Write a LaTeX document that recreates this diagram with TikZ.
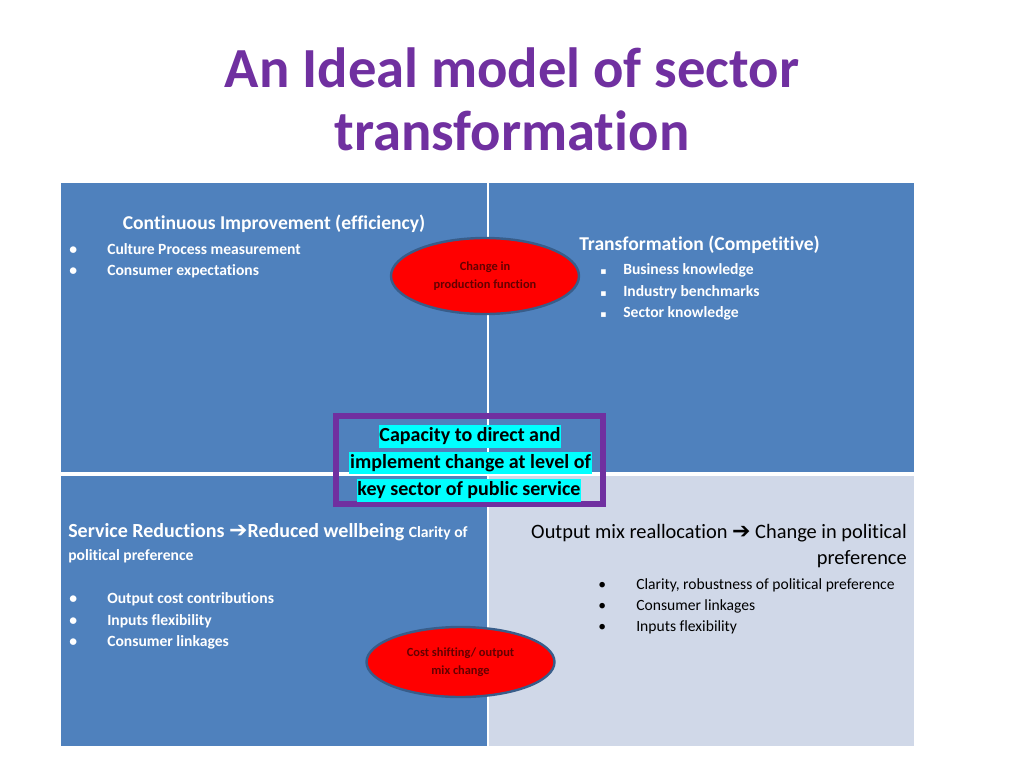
\documentclass[tikz,border=0pt]{standalone}
\usepackage{fontspec}
\setmainfont{Carlito}[Ligatures=NoCommon]
\newfontfamily\symfont{DejaVu Sans}
\usetikzlibrary{shapes.geometric}
\definecolor{titlepurple}{RGB}{112,48,160}
\definecolor{quadblue}{RGB}{79,129,189}
\definecolor{quadgrey}{RGB}{208,216,232}
\definecolor{ovalred}{RGB}{255,0,0}
\definecolor{ovalline}{RGB}{56,93,138}
\definecolor{ovaltext}{RGB}{100,0,0}
\definecolor{hilite}{RGB}{0,255,255}
\newcommand{\heavyarr}{{\symfont\fontsize{16.5}{18}\selectfont\char"2794}}
\newcommand{\sqbul}{{\symfont\fontsize{7}{9}\selectfont\char"25AA}}

\tikzset{
  titletext/.style={font=\fontsize{42.5}{47}\selectfont\bfseries, text=titlepurple, anchor=base, inner sep=0pt},
  heading/.style={font=\fontsize{14.7}{18}\selectfont\bfseries, text=white, anchor=base west, inner sep=0pt},
  item/.style={font=\fontsize{11.7}{14}\selectfont\bfseries, text=white, anchor=base west, inner sep=0pt},
  plainitem/.style={font=\fontsize{11.7}{14}\selectfont, text=black, anchor=base west, inner sep=0pt},
  redoval/.style={ellipse, fill=ovalred, draw=ovalline, line width=1.8pt, text=ovaltext,
    font=\fontsize{9.3}{13.5}\selectfont\bfseries, align=center, inner sep=0pt},
  capline/.style={fill=hilite, text=black, font=\fontsize{15}{18}\selectfont\bfseries,
    inner xsep=0.6pt, inner ysep=1pt, text height=11.5pt, text depth=3.5pt}
}

\begin{document}
\begin{tikzpicture}[x=0.75pt,y=-0.75pt]
	\useasboundingbox (0,0) rectangle (1024,768);
	\fill[white] (0,0) rectangle (1024,768);
	
	\node[titletext] (title1) at (512,87) {An Ideal model of sector};
	\node[titletext] (title2) at (512,150) {transformation};
	
	\fill[quadblue] (61,183) rectangle (487,472);
	\fill[quadblue] (489,183) rectangle (914,472);
	\fill[quadblue] (61,476) rectangle (487,746);
	\fill[quadgrey] (489,476) rectangle (914,746);
	
	\node[heading, anchor=base] (ci) at (274,229) {Continuous Improvement (efficiency)};
	\node[item] (tlb1) at (69,254) {•};
	\node[item] (tl1) at (107,254) {Culture Process measurement};
	\node[item] (tlb2) at (69,275) {•};
	\node[item] (tl2) at (107,275) {Consumer expectations};
	
	\node[heading] (tr) at (579,250) {Transformation (Competitive)};
	\node[item] (trb1) at (600,274) {\sqbul};
	\node[item] (tr1) at (623,274) {Business knowledge};
	\node[item] (trb2) at (600,296) {\sqbul};
	\node[item] (tr2) at (623,296) {Industry benchmarks};
	\node[item] (trb3) at (600,317) {\sqbul};
	\node[item] (tr3) at (623,317) {Sector knowledge};
	
	\node[heading, font=\fontsize{15}{18}\selectfont\bfseries] (sr1) at (68,537)
		{Service Reductions \heavyarr Reduced wellbeing {\fontsize{11.7}{14}\selectfont Clarity of}};
	\node[item] (sr2) at (68,560) {political preference};
	\node[item] (blb1) at (69,603) {•};
	\node[item] (bl1) at (107,603) {Output cost contributions};
	\node[item] (blb2) at (69,625) {•};
	\node[item] (bl2) at (107,625) {Inputs flexibility};
	\node[item] (blb3) at (69,646) {•};
	\node[item] (bl3) at (107,646) {Consumer linkages};
	
	\node[heading, font=\fontsize{15.3}{18}\selectfont, text=black, anchor=base east] (om1) at (907,538)
		{Output mix reallocation \heavyarr\ Change in political};
	\node[heading, font=\fontsize{15.3}{18}\selectfont, text=black, anchor=base east] (om2) at (907,564) {preference};
	\node[plainitem] (brb1) at (598,589) {•};
	\node[plainitem] (br1) at (636,589) {Clarity, robustness of political preference};
	\node[plainitem] (brb2) at (598,610) {•};
	\node[plainitem] (br2) at (636,610) {Consumer linkages};
	\node[plainitem] (brb3) at (598,631) {•};
	\node[plainitem] (br3) at (636,631) {Inputs flexibility};
	
	\node[redoval, minimum width=141pt, minimum height=57pt] (prod) at (485,276)
		{Change in\\production function};
	\node[redoval, minimum width=141pt, minimum height=52.5pt] (cost) at (460.5,662)
		{Cost shifting/ output\\mix change};
	
	\draw[titlepurple, line width=4.5pt] (336,416) rectangle (603,504);
	\node[capline] (cap1) at (470,436.5) {Capacity to direct and\ };
	\node[capline] (cap2) at (470.5,463) {implement change at level of};
	\node[capline] (cap3) at (469,490.5) {key sector of public service};
\end{tikzpicture}
\end{document}
